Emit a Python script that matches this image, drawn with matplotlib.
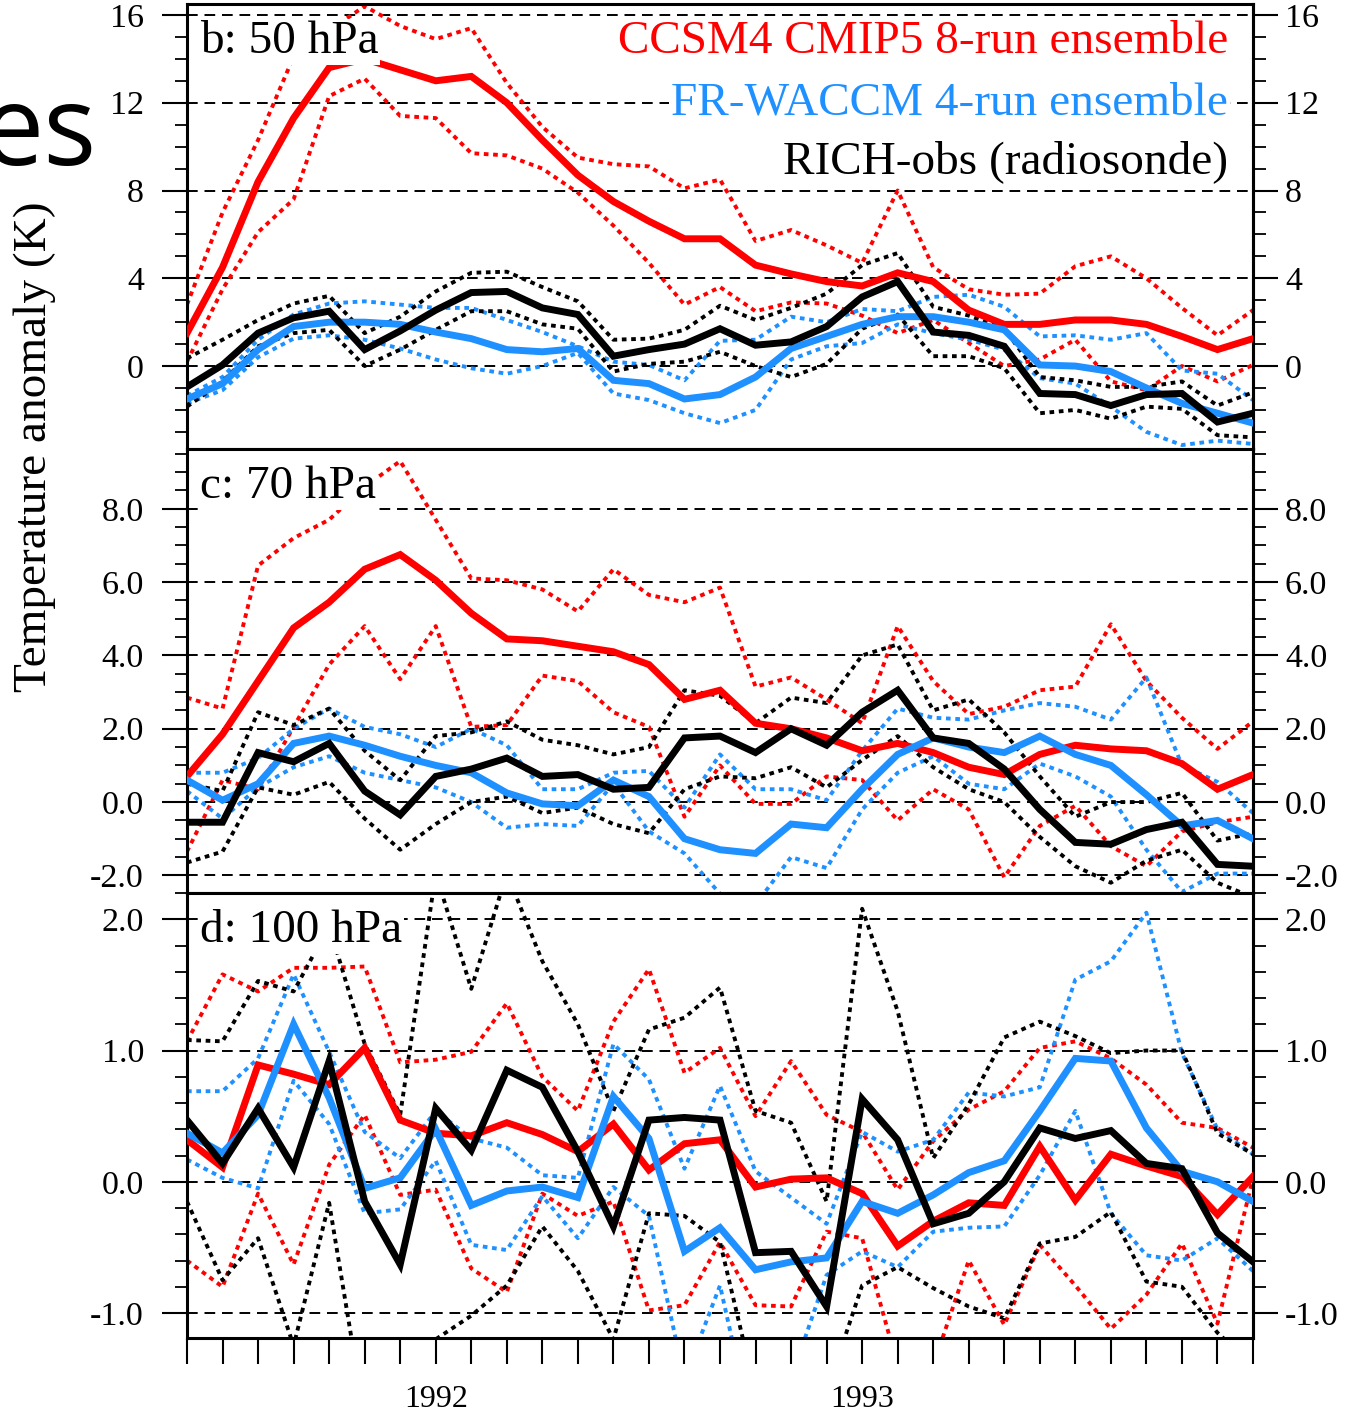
import numpy as np
import matplotlib.pyplot as plt
from matplotlib.ticker import MultipleLocator, FixedLocator, FuncFormatter

# monthly points, Jun 1991 .. Dec 1993
months = np.arange(31)
year_ticks = [7, 19]
year_labels = ['1992', '1993']

# ---- 50 hPa ----
ccsm_50 = [1.5, 4.5, 8.4, 11.3, 13.6, 14.0, 13.5, 13.0, 13.2, 12.0, 10.3, 8.7, 7.5, 6.6, 5.8, 5.8,
           4.6, 4.2, 3.85, 3.65, 4.25, 3.85, 2.55, 1.9, 1.9, 2.1, 2.1, 1.9, 1.35, 0.75, 1.25]
ccsm_50_hi = [2.8, 7.0, 10.3, 14.1, 15.3, 16.4, 15.5, 14.9, 15.4, 12.9, 10.9, 9.5, 9.2, 9.1, 8.1, 8.5,
              5.7, 6.2, 5.5, 4.7, 8.0, 4.5, 3.5, 3.25, 3.3, 4.55, 5.0, 4.0, 2.65, 1.4, 2.55]
ccsm_50_lo = [0.2, 3.5, 6.1, 7.6, 12.3, 13.1, 11.4, 11.3, 9.7, 9.6, 9.0, 7.9, 6.4, 4.7, 2.8, 3.6,
              2.5, 2.9, 2.85, 2.3, 1.5, 2.1, 1.05, 0.0, 0.3, 1.2, -0.7, -1.1, 0.0, -0.7, 0.05]
waccm_50 = [-1.5, -0.8, 0.75, 1.8, 2.0, 2.0, 1.9, 1.55, 1.25, 0.75, 0.65, 0.8, -0.65, -0.8, -1.5, -1.3,
            -0.5, 0.8, 1.35, 1.9, 2.25, 2.25, 2.0, 1.65, 0.05, 0.0, -0.25, -1.0, -1.7, -2.15, -2.6]
waccm_50_hi = [-1.35, -0.5, 1.2, 2.35, 2.85, 2.95, 2.8, 2.65, 2.65, 2.1, 1.55, 0.9, 0.2, 0.05, -0.65, 1.15,
               1.2, 2.25, 2.0, 2.6, 2.5, 3.15, 3.25, 2.7, 1.35, 1.4, 1.2, 1.5, -0.2, -0.35, -1.55]
waccm_50_lo = [-1.7, -1.1, 0.4, 1.25, 1.4, 1.2, 0.8, 0.3, -0.1, -0.35, 0.0, 0.6, -1.25, -1.55, -2.15, -2.6,
               -2.0, 0.3, 0.9, 1.05, 1.9, 1.5, 1.2, 0.75, -0.55, -0.8, -1.85, -3.0, -3.6, -3.4, -3.55]
rich_50 = [-0.95, 0.05, 1.5, 2.2, 2.5, 0.75, 1.6, 2.55, 3.35, 3.4, 2.65, 2.35, 0.45, 0.75, 1.0, 1.7,
           0.95, 1.1, 1.8, 3.15, 3.85, 1.55, 1.4, 0.9, -1.25, -1.3, -1.8, -1.3, -1.25, -2.55, -2.15]
rich_50_hi = [0.35, 1.2, 2.1, 2.85, 3.2, 1.5, 2.25, 3.4, 4.25, 4.3, 3.6, 2.95, 1.2, 1.25, 1.65, 2.75,
              2.1, 2.65, 3.3, 4.6, 5.15, 2.7, 2.3, 1.7, -0.5, -0.65, -0.95, -0.95, -0.7, -1.8, -1.2]
rich_50_lo = [-1.85, -0.7, 0.9, 1.5, 1.65, 0.0, 0.75, 1.65, 2.5, 2.5, 1.9, 1.7, -0.25, 0.1, 0.2, 0.65,
              0.0, -0.5, 0.1, 1.7, 2.35, 0.45, 0.45, -0.1, -2.15, -2.0, -2.4, -1.85, -1.95, -3.15, -3.25]

# ---- 70 hPa ----
ccsm_70 = [0.7, 1.85, 3.3, 4.75, 5.45, 6.35, 6.75, 6.05, 5.15, 4.45, 4.4, 4.25, 4.1, 3.75, 2.8, 3.05,
           2.15, 2.0, 1.75, 1.4, 1.6, 1.35, 0.95, 0.75, 1.3, 1.55, 1.45, 1.4, 1.05, 0.35, 0.75]
ccsm_70_hi = [2.85, 2.55, 6.45, 7.2, 7.7, 8.6, 9.3, 7.7, 6.1, 6.05, 5.8, 5.2, 6.35, 5.65, 5.45, 5.85,
              3.15, 3.4, 2.8, 2.15, 4.8, 3.3, 2.4, 2.6, 3.05, 3.15, 4.85, 3.3, 2.3, 1.45, 2.2]
ccsm_70_lo = [-1.35, 0.6, 0.35, 2.05, 3.75, 4.8, 3.35, 4.8, 2.05, 2.1, 3.45, 3.3, 2.45, 2.05, -0.4, 1.0,
              -0.05, -0.05, 0.7, 0.6, -0.5, 0.35, -0.2, -2.05, -0.65, -0.1, -1.2, -1.75, -0.8, -0.55, -0.4]
waccm_70 = [0.6, 0.05, 0.5, 1.6, 1.8, 1.55, 1.25, 1.0, 0.8, 0.25, -0.05, -0.1, 0.6, 0.15, -1.0, -1.3,
            -1.4, -0.6, -0.7, 0.35, 1.3, 1.75, 1.5, 1.35, 1.8, 1.3, 1.0, 0.2, -0.65, -0.5, -1.0]
waccm_70_hi = [0.8, 0.8, 1.2, 2.0, 2.55, 2.05, 1.85, 1.5, 2.0, 1.55, 0.35, 0.35, 0.8, 0.85, -0.15, 1.3,
               0.35, 0.35, 0.05, 1.4, 2.55, 2.3, 2.25, 2.5, 2.7, 2.6, 2.25, 3.4, 1.0, 0.55, -0.3]
waccm_70_lo = [0.3, -0.45, 0.4, 0.95, 1.25, 0.8, 0.6, 0.4, 0.0, -0.7, -0.6, -0.65, 0.5, -0.8, -1.4, -2.5,
               -2.8, -1.5, -1.8, -0.2, 0.8, 1.25, 0.5, 0.35, 1.05, 0.7, 0.15, -1.3, -2.45, -1.95, -1.95]
rich_70 = [-0.55, -0.55, 1.35, 1.1, 1.6, 0.3, -0.35, 0.7, 0.9, 1.2, 0.7, 0.75, 0.35, 0.4, 1.75, 1.8,
           1.35, 2.0, 1.55, 2.45, 3.05, 1.75, 1.6, 0.9, -0.2, -1.1, -1.15, -0.75, -0.55, -1.7, -1.75]
rich_70_hi = [0.5, 0.3, 2.45, 2.1, 2.55, 1.4, 0.6, 1.8, 1.9, 2.2, 1.7, 1.55, 1.3, 1.5, 3.05, 2.9,
              2.15, 2.85, 2.7, 4.0, 4.3, 2.5, 2.8, 1.9, 0.7, -0.4, 0.0, 0.0, 0.25, -1.05, -0.85]
rich_70_lo = [-1.65, -1.35, 0.4, 0.2, 0.55, -0.45, -1.3, -0.6, 0.0, 0.15, -0.3, -0.15, -0.6, -0.85, 0.35, 0.7,
              0.65, 0.95, 0.4, 1.15, 1.8, 0.95, 0.35, 0.0, -0.95, -1.75, -2.2, -1.6, -1.3, -2.2, -2.6]

# ---- 100 hPa ----
ccsm_100 = [0.32, 0.11, 0.89, 0.82, 0.74, 1.02, 0.47, 0.37, 0.35, 0.45, 0.36, 0.23, 0.44, 0.09, 0.29, 0.32,
            -0.04, 0.02, 0.03, -0.09, -0.49, -0.3, -0.16, -0.18, 0.27, -0.14, 0.21, 0.12, 0.04, -0.25, 0.04]
ccsm_100_hi = [1.07, 1.58, 1.45, 1.63, 1.63, 1.64, 0.91, 0.93, 0.99, 1.36, 0.8, 0.54, 1.22, 1.62, 0.83, 1.02,
               0.5, 0.92, 0.51, 0.38, -0.06, 0.31, 0.55, 0.69, 1.02, 1.07, 0.94, 0.74, 0.45, 0.41, 0.26]
ccsm_100_lo = [-0.6, -0.8, -0.09, -0.63, 0.13, 0.51, -0.1, -0.06, -0.66, -0.84, -0.09, -0.26, -0.15, -0.98, -0.94, -0.46,
               -0.94, -0.95, -0.38, -0.43, -1.4, -1.4, -0.6, -1.09, -0.48, -0.79, -1.12, -0.86, -0.47, -1.08, 0.03]
waccm_100 = [0.37, 0.22, 0.51, 1.2, 0.64, -0.05, 0.03, 0.4, -0.18, -0.07, -0.04, -0.12, 0.65, 0.33, -0.53, -0.35,
             -0.67, -0.61, -0.58, -0.15, -0.24, -0.1, 0.07, 0.16, 0.54, 0.94, 0.92, 0.41, 0.08, 0.0, -0.15]
waccm_100_hi = [0.69, 0.69, 0.94, 1.58, 0.99, 0.38, 0.18, 0.54, 0.33, 0.26, 0.05, 0.03, 1.05, 0.78, 0.1, 0.73,
                0.08, -0.12, -0.32, 0.38, 0.23, 0.32, 0.68, 0.65, 0.72, 1.54, 1.68, 2.05, 0.98, 0.4, 0.21]
waccm_100_lo = [0.17, 0.03, -0.05, 0.77, 0.44, -0.24, -0.21, 0.16, -0.48, -0.52, -0.11, -0.43, -0.04, -0.26, -1.5, -0.79,
                -2.0, -1.5, -0.71, -0.53, -0.65, -0.38, -0.35, -0.34, 0.05, 0.54, -0.24, -0.56, -0.6, -0.43, -0.68]
rich_100 = [0.47, 0.14, 0.56, 0.11, 0.92, -0.15, -0.63, 0.56, 0.24, 0.85, 0.72, 0.23, -0.34, 0.47, 0.49, 0.47,
            -0.54, -0.53, -0.95, 0.63, 0.32, -0.32, -0.24, 0.0, 0.41, 0.33, 0.39, 0.14, 0.1, -0.39, -0.61]
rich_100_hi = [1.08, 1.07, 1.53, 1.45, 1.95, 1.05, 0.51, 2.35, 1.47, 2.35, 1.68, 1.2, 0.54, 1.16, 1.25, 1.48,
               0.54, 0.45, -0.15, 2.08, 1.3, 0.18, 0.59, 1.1, 1.22, 1.11, 0.98, 1.0, 1.0, 0.37, 0.21]
rich_100_lo = [-0.15, -0.75, -0.43, -1.25, -0.16, -1.8, -1.6, -1.2, -1.02, -0.79, -0.34, -0.68, -1.2, -0.24, -0.26, -0.46,
               -1.6, -1.7, -1.6, -0.79, -0.65, -0.81, -0.95, -1.04, -0.47, -0.42, -0.23, -0.76, -0.8, -1.15, -1.4]

# y tick values per panel
yticks_50 = [0, 4, 8, 12, 16]
yticks_70 = [-2, 0, 2, 4, 6, 8]
yticks_100 = [-1, 0, 1, 2]

RED = '#ff0000'
BLUE = '#1e90ff'
BLACK = '#000000'

plt.rcParams['font.family'] = ['Liberation Serif', 'DejaVu Serif']

fig = plt.figure(figsize=(13.57, 14.14), dpi=100)
W, H = 1357.0, 1414.0


def px_axes(left, top, right, bottom):
    return fig.add_axes([left / W, 1 - bottom / H, (right - left) / W, (bottom - top) / H])


ax_b = px_axes(187, 4, 1253, 449)
ax_c = px_axes(187, 449, 1253, 893)
ax_d = px_axes(187, 893, 1253, 1338)

panels = [
    (ax_b, 'b: 50 hPa', (-3.78, 16.5), yticks_50, 1, '%d',
     (ccsm_50, ccsm_50_hi, ccsm_50_lo), (waccm_50, waccm_50_hi, waccm_50_lo), (rich_50, rich_50_hi, rich_50_lo)),
    (ax_c, 'c: 70 hPa', (-2.48, 9.63), yticks_70, 0.5, '%.1f',
     (ccsm_70, ccsm_70_hi, ccsm_70_lo), (waccm_70, waccm_70_hi, waccm_70_lo), (rich_70, rich_70_hi, rich_70_lo)),
    (ax_d, 'd: 100 hPa', (-1.19, 2.2), yticks_100, 0.2, '%.1f',
     (ccsm_100, ccsm_100_hi, ccsm_100_lo), (waccm_100, waccm_100_hi, waccm_100_lo), (rich_100, rich_100_hi, rich_100_lo)),
]


def make_fmt(fmt):
    def f(v, pos):
        if abs(v) < 1e-9:
            v = 0.0
        return fmt % v
    return FuncFormatter(f)


dotted = (0, (1.2, 1.2))
gridstyle = (0, (5.5, 3.5))

for ax, label, ylim, yticks, minor, fmt, red, blue, black in panels:
    ax.set_xlim(0, 30)
    ax.set_ylim(*ylim)
    ax.set_axisbelow(True)
    ax.yaxis.set_major_locator(FixedLocator(yticks))
    ax.yaxis.set_minor_locator(MultipleLocator(minor))
    ax.yaxis.set_major_formatter(make_fmt(fmt))
    ax.grid(axis='y', which='major', color='k', linestyle=gridstyle, linewidth=1.4)
    ax.tick_params(axis='y', which='major', direction='out', length=18, width=1.5,
                   labelsize=24.5, pad=13, left=True, right=False)
    ax.tick_params(axis='y', which='minor', direction='out', length=9, width=1.3,
                   left=True, right=False)
    ax.tick_params(axis='x', which='both', bottom=False, top=False, labelbottom=False)
    for sp in ax.spines.values():
        sp.set_linewidth(2.2)

    # right-hand axis with the same scale
    sec = ax.secondary_yaxis('right')
    sec.yaxis.set_major_locator(FixedLocator(yticks))
    sec.yaxis.set_minor_locator(MultipleLocator(minor))
    sec.yaxis.set_major_formatter(make_fmt(fmt))
    sec.tick_params(axis='y', which='major', direction='out', length=18, width=1.5,
                    labelsize=24.5, pad=5)
    sec.tick_params(axis='y', which='minor', direction='out', length=9, width=1.3)
    sec.spines['right'].set_linewidth(2.2)

    # ensemble spread (dotted), then means
    for series, col in [(red, RED), (blue, BLUE), (black, BLACK)]:
        for s in series[1:]:
            ax.plot(months, s, color=col, linestyle=dotted, linewidth=2.8, zorder=2)
    for series, col in [(red, RED), (blue, BLUE), (black, BLACK)]:
        ax.plot(months, series[0], color=col, linewidth=5.0, solid_joinstyle='miter', zorder=3)

    ax.text(0.012, 0.915, label, transform=ax.transAxes, fontsize=34, va='center', ha='left',
            zorder=5, bbox=dict(facecolor='white', edgecolor='none', pad=1.5))

# legend text in the top panel
for txt, col, yy in [('CCSM4 CMIP5 8-run ensemble', RED, 0.915),
                     ('FR-WACCM 4-run ensemble', BLUE, 0.7775),
                     ('RICH-obs (radiosonde)', BLACK, 0.645)]:
    ax_b.text(0.9765, yy, txt, color=col, transform=ax_b.transAxes, fontsize=34,
              ha='right', va='center', zorder=5,
              bbox=dict(facecolor='white', edgecolor='none', pad=1.5))

# month ticks with year labels on the bottom panel
xlabels = [''] * len(months)
for t, lab in zip(year_ticks, year_labels):
    xlabels[t] = lab
ax_d.set_xticks(months)
ax_d.set_xticklabels(xlabels)
ax_d.tick_params(axis='x', which='major', bottom=True, labelbottom=True, direction='out',
                 length=19, width=1.5, labelsize=23, pad=15)

fig.text(35 / W, 1 - 447 / H, 'Temperature anomaly (K)', rotation=90, fontsize=34,
         ha='center', va='center')

# fragment of slide title showing at top-left
fig.text(97 / W, 1 - 165 / H, 'es', fontsize=80, family=['Open Sans', 'DejaVu Sans'],
         ha='right', va='baseline')

fig.savefig('out.png', dpi=100)
